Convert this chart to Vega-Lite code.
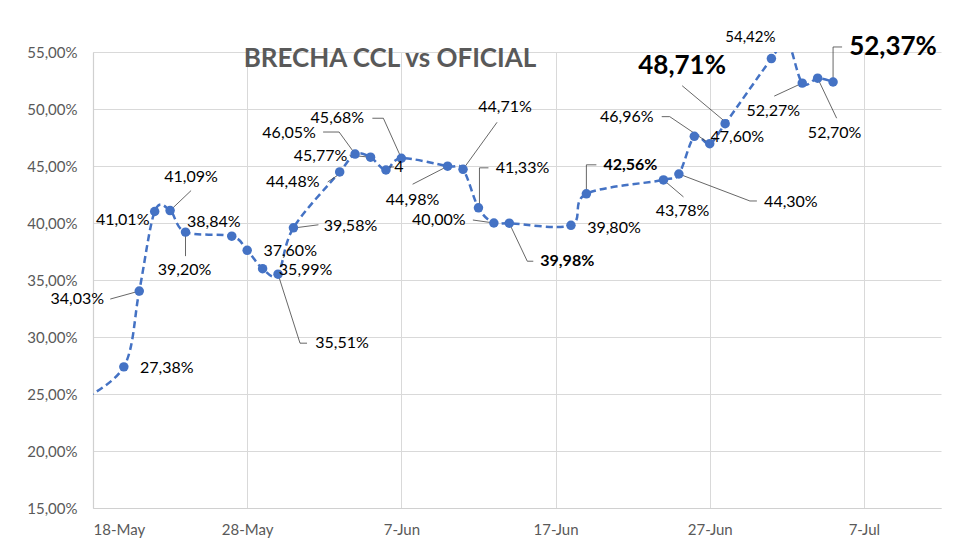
{
  "$schema": "https://vega.github.io/schema/vega-lite/v6.json",
  "autosize": "none",
  "width": 848,
  "height": 456,
  "padding": {"left": 93, "top": 52, "right": 39, "bottom": 46},
  "background": "white",
  "title": {"text": "BRECHA CCL vs OFICIAL", "anchor": "middle", "dx": -127, "offset": -15, "dy": 48, "baseline": "alphabetic", "font": "Lato", "fontSize": 26, "fontWeight": "bold", "color": "#595959"},
  "data": {"values": [
    {"d": "2024-05-17", "v": 24.3, "label": null},
    {"d": "2024-05-20", "v": 27.38, "label": "27,38%"},
    {"d": "2024-05-21", "v": 34.03, "label": "34,03%"},
    {"d": "2024-05-22", "v": 41.01, "label": "41,01%"},
    {"d": "2024-05-23", "v": 41.09, "label": "41,09%"},
    {"d": "2024-05-24", "v": 39.20, "label": "39,20%"},
    {"d": "2024-05-27", "v": 38.84, "label": "38,84%"},
    {"d": "2024-05-28", "v": 37.60, "label": "37,60%"},
    {"d": "2024-05-29", "v": 35.99, "label": "35,99%"},
    {"d": "2024-05-30", "v": 35.51, "label": "35,51%"},
    {"d": "2024-05-31", "v": 39.58, "label": "39,58%"},
    {"d": "2024-06-03", "v": 44.48, "label": "44,48%"},
    {"d": "2024-06-04", "v": 46.05, "label": "46,05%"},
    {"d": "2024-06-05", "v": 45.77, "label": "45,77%"},
    {"d": "2024-06-06", "v": 44.65, "label": "4"},
    {"d": "2024-06-07", "v": 45.68, "label": "45,68%"},
    {"d": "2024-06-10", "v": 44.98, "label": "44,98%"},
    {"d": "2024-06-11", "v": 44.71, "label": "44,71%"},
    {"d": "2024-06-12", "v": 41.33, "label": "41,33%"},
    {"d": "2024-06-13", "v": 40.00, "label": "40,00%"},
    {"d": "2024-06-14", "v": 39.98, "label": "39,98%"},
    {"d": "2024-06-18", "v": 39.80, "label": "39,80%"},
    {"d": "2024-06-19", "v": 42.56, "label": "42,56%"},
    {"d": "2024-06-24", "v": 43.78, "label": "43,78%"},
    {"d": "2024-06-25", "v": 44.30, "label": "44,30%"},
    {"d": "2024-06-26", "v": 47.60, "label": "47,60%"},
    {"d": "2024-06-27", "v": 46.96, "label": "46,96%"},
    {"d": "2024-06-28", "v": 48.71, "label": "48,71%"},
    {"d": "2024-07-01", "v": 54.42, "label": "54,42%"},
    {"d": "2024-07-02", "v": 56.0, "label": null},
    {"d": "2024-07-03", "v": 52.27, "label": "52,27%"},
    {"d": "2024-07-04", "v": 52.70, "label": "52,70%"},
    {"d": "2024-07-05", "v": 52.37, "label": "52,37%"}
  ]},
  "encoding": {
    "x": {"field": "d", "type": "temporal",
      "scale": {"type": "utc", "domain": [{"year": 2024, "month": 5, "date": 18, "utc": true}, {"year": 2024, "month": 7, "date": 12, "utc": true}]},
      "axis": {"title": null, "labelExpr": "utcFormat(datum.value, '%-d-%b')",
        "values": [{"year": 2024, "month": 5, "date": 18, "utc": true}, {"year": 2024, "month": 5, "date": 28, "utc": true}, {"year": 2024, "month": 6, "date": 7, "utc": true}, {"year": 2024, "month": 6, "date": 17, "utc": true}, {"year": 2024, "month": 6, "date": 27, "utc": true}, {"year": 2024, "month": 7, "date": 7, "utc": true}],
        "labelPadding": 14}},
    "y": {"field": "v", "type": "quantitative",
      "scale": {"domain": [15, 55], "nice": false, "zero": false},
      "axis": {"title": null, "values": [15, 20, 25, 30, 35, 40, 45, 50, 55], "labelExpr": "replace(format(datum.value, '.2f'), '.', ',') + '%'", "labelPadding": 16}}
  },
  "layer": [
    {"mark": {"type": "line", "interpolate": "cardinal", "clip": true, "color": "#4472C4", "strokeWidth": 2.5, "strokeDash": [7, 4]}},
    {"transform": [{"filter": "datum.label === '34,03%'"}], "mark": {"type": "rule", "x2Offset": -29, "y2Offset": 8, "color": "#404040", "strokeWidth": 0.8}, "encoding": {"x2": {"field": "d"}, "y2": {"field": "v"}}},
    {"transform": [{"filter": "datum.label === '41,09%'"}], "mark": {"type": "rule", "x2Offset": 21, "y2Offset": -20, "color": "#404040", "strokeWidth": 0.8}, "encoding": {"x2": {"field": "d"}, "y2": {"field": "v"}}},
    {"transform": [{"filter": "datum.label === '39,20%'"}], "mark": {"type": "rule", "x2Offset": 0, "y2Offset": 24, "color": "#404040", "strokeWidth": 0.8}, "encoding": {"x2": {"field": "d"}, "y2": {"field": "v"}}},
    {"transform": [{"filter": "datum.label === '35,51%'"}], "mark": {"type": "rule", "x2Offset": 22, "y2Offset": 69, "color": "#404040", "strokeWidth": 0.8}, "encoding": {"x2": {"field": "d"}, "y2": {"field": "v"}}},
    {"transform": [{"filter": "datum.label === '35,51%'"}], "mark": {"type": "rule", "xOffset": 22, "yOffset": 69, "x2Offset": 29, "y2Offset": 69, "color": "#404040", "strokeWidth": 0.8}, "encoding": {"x2": {"field": "d"}, "y2": {"field": "v"}}},
    {"transform": [{"filter": "datum.label === '39,58%'"}], "mark": {"type": "rule", "xOffset": 2, "x2Offset": 25, "y2Offset": -3, "color": "#404040", "strokeWidth": 0.8}, "encoding": {"x2": {"field": "d"}, "y2": {"field": "v"}}},
    {"transform": [{"filter": "datum.label === '44,48%'"}], "mark": {"type": "rule", "xOffset": -12, "yOffset": 10, "x2Offset": 0, "y2Offset": 2, "color": "#404040", "strokeWidth": 0.8}, "encoding": {"x2": {"field": "d"}, "y2": {"field": "v"}}},
    {"transform": [{"filter": "datum.label === '46,05%'"}], "mark": {"type": "rule", "xOffset": -32, "yOffset": -22, "x2Offset": -16, "y2Offset": -22, "color": "#404040", "strokeWidth": 0.8}, "encoding": {"x2": {"field": "d"}, "y2": {"field": "v"}}},
    {"transform": [{"filter": "datum.label === '46,05%'"}], "mark": {"type": "rule", "xOffset": -16, "yOffset": -22, "color": "#404040", "strokeWidth": 0.8}, "encoding": {"x2": {"field": "d"}, "y2": {"field": "v"}}},
    {"transform": [{"filter": "datum.label === '45,77%'"}], "mark": {"type": "rule", "xOffset": -21, "yOffset": -2, "color": "#404040", "strokeWidth": 0.8}, "encoding": {"x2": {"field": "d"}, "y2": {"field": "v"}}},
    {"transform": [{"filter": "datum.label === '4'"}], "mark": {"type": "rule", "xOffset": 1, "yOffset": -3, "x2Offset": 8, "y2Offset": -3, "color": "#404040", "strokeWidth": 0.8}, "encoding": {"x2": {"field": "d"}, "y2": {"field": "v"}}},
    {"transform": [{"filter": "datum.label === '45,68%'"}], "mark": {"type": "rule", "xOffset": -29, "yOffset": -40, "x2Offset": -18, "y2Offset": -40, "color": "#404040", "strokeWidth": 0.8}, "encoding": {"x2": {"field": "d"}, "y2": {"field": "v"}}},
    {"transform": [{"filter": "datum.label === '45,68%'"}], "mark": {"type": "rule", "xOffset": -18, "yOffset": -40, "color": "#404040", "strokeWidth": 0.8}, "encoding": {"x2": {"field": "d"}, "y2": {"field": "v"}}},
    {"transform": [{"filter": "datum.label === '44,98%'"}], "mark": {"type": "rule", "xOffset": -35, "yOffset": 18, "color": "#404040", "strokeWidth": 0.8}, "encoding": {"x2": {"field": "d"}, "y2": {"field": "v"}}},
    {"transform": [{"filter": "datum.label === '44,71%'"}], "mark": {"type": "rule", "xOffset": 34, "yOffset": -47, "color": "#404040", "strokeWidth": 0.8}, "encoding": {"x2": {"field": "d"}, "y2": {"field": "v"}}},
    {"transform": [{"filter": "datum.label === '41,33%'"}], "mark": {"type": "rule", "xOffset": 1, "x2Offset": 1, "y2Offset": -40, "color": "#404040", "strokeWidth": 0.8}, "encoding": {"x2": {"field": "d"}, "y2": {"field": "v"}}},
    {"transform": [{"filter": "datum.label === '41,33%'"}], "mark": {"type": "rule", "xOffset": 1, "yOffset": -40, "x2Offset": 10, "y2Offset": -40, "color": "#404040", "strokeWidth": 0.8}, "encoding": {"x2": {"field": "d"}, "y2": {"field": "v"}}},
    {"transform": [{"filter": "datum.label === '40,00%'"}], "mark": {"type": "rule", "xOffset": -21, "yOffset": -3, "color": "#404040", "strokeWidth": 0.8}, "encoding": {"x2": {"field": "d"}, "y2": {"field": "v"}}},
    {"transform": [{"filter": "datum.label === '39,98%'"}], "mark": {"type": "rule", "x2Offset": 18, "y2Offset": 38, "color": "#404040", "strokeWidth": 0.8}, "encoding": {"x2": {"field": "d"}, "y2": {"field": "v"}}},
    {"transform": [{"filter": "datum.label === '39,98%'"}], "mark": {"type": "rule", "xOffset": 18, "yOffset": 38, "x2Offset": 24, "y2Offset": 38, "color": "#404040", "strokeWidth": 0.8}, "encoding": {"x2": {"field": "d"}, "y2": {"field": "v"}}},
    {"transform": [{"filter": "datum.label === '42,56%'"}], "mark": {"type": "rule", "x2Offset": 0, "y2Offset": -29, "color": "#404040", "strokeWidth": 0.8}, "encoding": {"x2": {"field": "d"}, "y2": {"field": "v"}}},
    {"transform": [{"filter": "datum.label === '42,56%'"}], "mark": {"type": "rule", "yOffset": -29, "x2Offset": 10, "y2Offset": -29, "color": "#404040", "strokeWidth": 0.8}, "encoding": {"x2": {"field": "d"}, "y2": {"field": "v"}}},
    {"transform": [{"filter": "datum.label === '43,78%'"}], "mark": {"type": "rule", "x2Offset": 20, "y2Offset": 17, "color": "#404040", "strokeWidth": 0.8}, "encoding": {"x2": {"field": "d"}, "y2": {"field": "v"}}},
    {"transform": [{"filter": "datum.label === '44,30%'"}], "mark": {"type": "rule", "x2Offset": 71, "y2Offset": 27, "color": "#404040", "strokeWidth": 0.8}, "encoding": {"x2": {"field": "d"}, "y2": {"field": "v"}}},
    {"transform": [{"filter": "datum.label === '44,30%'"}], "mark": {"type": "rule", "xOffset": 71, "yOffset": 27, "x2Offset": 78, "y2Offset": 27, "color": "#404040", "strokeWidth": 0.8}, "encoding": {"x2": {"field": "d"}, "y2": {"field": "v"}}},
    {"transform": [{"filter": "datum.label === '46,96%'"}], "mark": {"type": "rule", "xOffset": -48, "yOffset": -27, "x2Offset": -40, "y2Offset": -27, "color": "#404040", "strokeWidth": 0.8}, "encoding": {"x2": {"field": "d"}, "y2": {"field": "v"}}},
    {"transform": [{"filter": "datum.label === '46,96%'"}], "mark": {"type": "rule", "xOffset": -40, "yOffset": -27, "color": "#404040", "strokeWidth": 0.8}, "encoding": {"x2": {"field": "d"}, "y2": {"field": "v"}}},
    {"transform": [{"filter": "datum.label === '48,71%'"}], "mark": {"type": "rule", "xOffset": -43, "yOffset": -38, "y2Offset": -2, "color": "#404040", "strokeWidth": 0.8}, "encoding": {"x2": {"field": "d"}, "y2": {"field": "v"}}},
    {"transform": [{"filter": "datum.label === '52,27%'"}], "mark": {"type": "rule", "xOffset": -28, "yOffset": 13, "color": "#404040", "strokeWidth": 0.8}, "encoding": {"x2": {"field": "d"}, "y2": {"field": "v"}}},
    {"transform": [{"filter": "datum.label === '52,70%'"}], "mark": {"type": "rule", "x2Offset": 19, "y2Offset": 40, "color": "#404040", "strokeWidth": 0.8}, "encoding": {"x2": {"field": "d"}, "y2": {"field": "v"}}},
    {"transform": [{"filter": "datum.label === '52,37%'"}], "mark": {"type": "rule", "x2Offset": 0, "y2Offset": -35, "color": "#404040", "strokeWidth": 0.8}, "encoding": {"x2": {"field": "d"}, "y2": {"field": "v"}}},
    {"transform": [{"filter": "datum.label === '52,37%'"}], "mark": {"type": "rule", "yOffset": -35, "x2Offset": 9, "y2Offset": -35, "color": "#404040", "strokeWidth": 0.8}, "encoding": {"x2": {"field": "d"}, "y2": {"field": "v"}}},
    {"transform": [{"filter": "datum.label != null"}], "mark": {"type": "circle", "clip": true, "color": "#4472C4", "opacity": 1, "size": 90}},
    {"transform": [{"filter": "datum.label === '27,38%'"}], "mark": {"type": "text", "dx": 43, "dy": 1, "font": "Lato", "fontSize": 16, "color": "#000000"}, "encoding": {"text": {"field": "label"}}},
    {"transform": [{"filter": "datum.label === '34,03%'"}], "mark": {"type": "text", "dx": -62, "dy": 8, "font": "Lato", "fontSize": 16, "color": "#000000"}, "encoding": {"text": {"field": "label"}}},
    {"transform": [{"filter": "datum.label === '41,01%'"}], "mark": {"type": "text", "dx": -32, "dy": 9, "font": "Lato", "fontSize": 16, "color": "#000000"}, "encoding": {"text": {"field": "label"}}},
    {"transform": [{"filter": "datum.label === '41,09%'"}], "mark": {"type": "text", "dx": 21, "dy": -34, "font": "Lato", "fontSize": 16, "color": "#000000"}, "encoding": {"text": {"field": "label"}}},
    {"transform": [{"filter": "datum.label === '39,20%'"}], "mark": {"type": "text", "dx": -1, "dy": 38, "font": "Lato", "fontSize": 16, "color": "#000000"}, "encoding": {"text": {"field": "label"}}},
    {"transform": [{"filter": "datum.label === '38,84%'"}], "mark": {"type": "text", "dx": -18, "dy": -14, "font": "Lato", "fontSize": 16, "color": "#000000"}, "encoding": {"text": {"field": "label"}}},
    {"transform": [{"filter": "datum.label === '37,60%'"}], "mark": {"type": "text", "dx": 43, "dy": 1, "font": "Lato", "fontSize": 16, "color": "#000000"}, "encoding": {"text": {"field": "label"}}},
    {"transform": [{"filter": "datum.label === '35,99%'"}], "mark": {"type": "text", "dx": 43, "dy": 1, "font": "Lato", "fontSize": 16, "color": "#000000"}, "encoding": {"text": {"field": "label"}}},
    {"transform": [{"filter": "datum.label === '35,51%'"}], "mark": {"type": "text", "dx": 64, "dy": 69, "font": "Lato", "fontSize": 16, "color": "#000000"}, "encoding": {"text": {"field": "label"}}},
    {"transform": [{"filter": "datum.label === '39,58%'"}], "mark": {"type": "text", "dx": 57, "dy": -2, "font": "Lato", "fontSize": 16, "color": "#000000"}, "encoding": {"text": {"field": "label"}}},
    {"transform": [{"filter": "datum.label === '44,48%'"}], "mark": {"type": "text", "dx": -47, "dy": 10, "font": "Lato", "fontSize": 16, "color": "#000000"}, "encoding": {"text": {"field": "label"}}},
    {"transform": [{"filter": "datum.label === '46,05%'"}], "mark": {"type": "text", "dx": -66, "dy": -21, "font": "Lato", "fontSize": 16, "color": "#000000"}, "encoding": {"text": {"field": "label"}}},
    {"transform": [{"filter": "datum.label === '45,77%'"}], "mark": {"type": "text", "dx": -50, "dy": -1, "font": "Lato", "fontSize": 16, "color": "#000000"}, "encoding": {"text": {"field": "label"}}},
    {"transform": [{"filter": "datum.label === '4'"}], "mark": {"type": "text", "dx": 13, "dy": -3, "font": "Lato", "fontSize": 16, "color": "#000000"}, "encoding": {"text": {"field": "label"}}},
    {"transform": [{"filter": "datum.label === '45,68%'"}], "mark": {"type": "text", "dx": -64, "dy": -40, "font": "Lato", "fontSize": 16, "color": "#000000"}, "encoding": {"text": {"field": "label"}}},
    {"transform": [{"filter": "datum.label === '44,98%'"}], "mark": {"type": "text", "dx": -35, "dy": 34, "font": "Lato", "fontSize": 16, "color": "#000000"}, "encoding": {"text": {"field": "label"}}},
    {"transform": [{"filter": "datum.label === '44,71%'"}], "mark": {"type": "text", "dx": 42, "dy": -62, "font": "Lato", "fontSize": 16, "color": "#000000"}, "encoding": {"text": {"field": "label"}}},
    {"transform": [{"filter": "datum.label === '41,33%'"}], "mark": {"type": "text", "dx": 44, "dy": -40, "font": "Lato", "fontSize": 16, "color": "#000000"}, "encoding": {"text": {"field": "label"}}},
    {"transform": [{"filter": "datum.label === '40,00%'"}], "mark": {"type": "text", "dx": -55, "dy": -3, "font": "Lato", "fontSize": 16, "color": "#000000"}, "encoding": {"text": {"field": "label"}}},
    {"transform": [{"filter": "datum.label === '39,98%'"}], "mark": {"type": "text", "dx": 58, "dy": 38, "font": "Lato", "fontSize": 16, "fontWeight": "bold", "color": "#000000"}, "encoding": {"text": {"field": "label"}}},
    {"transform": [{"filter": "datum.label === '39,80%'"}], "mark": {"type": "text", "dx": 43, "dy": 3, "font": "Lato", "fontSize": 16, "color": "#000000"}, "encoding": {"text": {"field": "label"}}},
    {"transform": [{"filter": "datum.label === '42,56%'"}], "mark": {"type": "text", "dx": 44, "dy": -29, "font": "Lato", "fontSize": 16, "fontWeight": "bold", "color": "#000000"}, "encoding": {"text": {"field": "label"}}},
    {"transform": [{"filter": "datum.label === '43,78%'"}], "mark": {"type": "text", "dx": 19, "dy": 31, "font": "Lato", "fontSize": 16, "color": "#000000"}, "encoding": {"text": {"field": "label"}}},
    {"transform": [{"filter": "datum.label === '44,30%'"}], "mark": {"type": "text", "dx": 112, "dy": 28, "font": "Lato", "fontSize": 16, "color": "#000000"}, "encoding": {"text": {"field": "label"}}},
    {"transform": [{"filter": "datum.label === '47,60%'"}], "mark": {"type": "text", "dx": 43, "dy": 1, "font": "Lato", "fontSize": 16, "color": "#000000"}, "encoding": {"text": {"field": "label"}}},
    {"transform": [{"filter": "datum.label === '46,96%'"}], "mark": {"type": "text", "dx": -83, "dy": -27, "font": "Lato", "fontSize": 16, "color": "#000000"}, "encoding": {"text": {"field": "label"}}},
    {"transform": [{"filter": "datum.label === '48,71%'"}], "mark": {"type": "text", "dx": -43, "dy": -58, "font": "Lato", "fontSize": 26, "fontWeight": "bold", "color": "#000000"}, "encoding": {"text": {"field": "label"}}},
    {"transform": [{"filter": "datum.label === '54,42%'"}], "mark": {"type": "text", "dx": -21, "dy": -22, "font": "Lato", "fontSize": 15, "color": "#000000"}, "encoding": {"text": {"field": "label"}}},
    {"transform": [{"filter": "datum.label === '52,27%'"}], "mark": {"type": "text", "dx": -29, "dy": 28, "font": "Lato", "fontSize": 16, "color": "#000000"}, "encoding": {"text": {"field": "label"}}},
    {"transform": [{"filter": "datum.label === '52,70%'"}], "mark": {"type": "text", "dx": 17, "dy": 55, "font": "Lato", "fontSize": 16, "color": "#000000"}, "encoding": {"text": {"field": "label"}}},
    {"transform": [{"filter": "datum.label === '52,37%'"}], "mark": {"type": "text", "dx": 60, "dy": -35, "font": "Lato", "fontSize": 26, "fontWeight": "bold", "color": "#000000"}, "encoding": {"text": {"field": "label"}}}
  ],
  "config": {
    "view": {"stroke": null},
    "axis": {"gridColor": "#d9d9d9", "gridWidth": 1, "domainColor": "#d0d0d0", "domainWidth": 1.2, "labelColor": "#595959", "labelFont": "Lato", "labelFontSize": 15, "ticks": false},
    "text": {"align": "center", "baseline": "middle"}
  }
}
